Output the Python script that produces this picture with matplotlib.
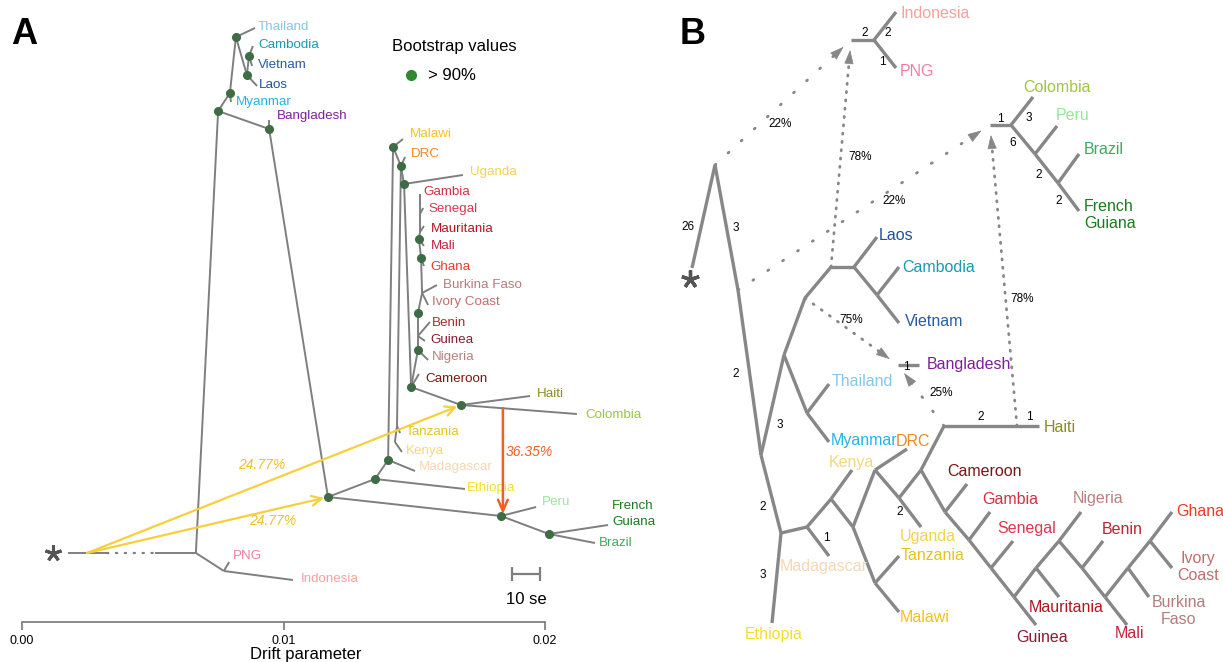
import numpy as np
import matplotlib.pyplot as plt

plt.rcParams['font.family'] = ['Liberation Sans', 'DejaVu Sans']

#################################################################################################################
# Datos panel A (arbol TreeMix): x = drift parameter, y = fila (0 arriba)
nodos_a = {
    'raiz': (0.00176, 553), 'p1': (0.00325, 553), 'p2': (0.00509, 553), 'base': (0.00665, 553),
    'oce': (0.00772, 571), 'PNG': (0.00792, 562), 'Indonesia': (0.01036, 580),
    'sea': (0.00750, 111), 'mya': (0.00795, 93), 'Myanmar': (0.00799, 102),
    'tha': (0.00818, 37), 'Thailand': (0.00891, 28), 'lao': (0.00860, 75), 'Laos': (0.00899, 86),
    'cv': (0.00868, 56), 'Cambodia': (0.00883, 46), 'Vietnam': (0.00880, 66),
    'bgd': (0.00945, 129), 'Bangladesh': (0.00945, 120),
    'afr': (0.01170, 497), 'eth': (0.01350, 479), 'Ethiopia': (0.01694, 489),
    'mdg': (0.01400, 460), 'Madagascar': (0.01503, 471),
    'mwi': (0.01419, 147), 'Malawi': (0.01457, 139), 'drc': (0.01449, 166), 'DRC': (0.01465, 157),
    'tza': (0.01434, 426), 'Tanzania': (0.01446, 433), 'ken': (0.01426, 442), 'Kenya': (0.01453, 452),
    'uga': (0.01461, 184), 'Uganda': (0.01686, 175),
    'cmr': (0.01488, 387), 'Cameroon': (0.01518, 374),
    'wa1': (0.01514, 350), 'Nigeria': (0.01553, 360), 'wa_gb': (0.01514, 336), 'Guinea': (0.01541, 341),
    'Benin': (0.01560, 322), 'wa2': (0.01514, 313), 'wa_bi': (0.01530, 293),
    'Burkina Faso': (0.01587, 285), 'Ivory Coast': (0.01553, 305),
    'wa3': (0.01526, 258), 'Ghana': (0.01537, 266), 'wa4': (0.01518, 239), 'Mali': (0.01537, 246),
    'wa5': (0.01522, 232), 'Mauritania': (0.01537, 226), 'wa6': (0.01522, 214), 'Senegal': (0.01534, 208),
    'Gambia': (0.01522, 194),
    'hai': (0.01679, 405), 'Haiti': (0.01943, 396), 'Colombia': (0.02122, 414),
    'per': (0.01832, 516), 'Peru': (0.01966, 507),
    'bra': (0.02015, 534), 'French Guiana': (0.02241, 525), 'Brazil': (0.02191, 543),
}
ramas_a = [('raiz', 'p1'), ('p2', 'base'),
           ('base', 'sea'), ('sea', 'mya'), ('mya', 'Myanmar'), ('mya', 'tha'), ('tha', 'Thailand'),
           ('tha', 'lao'), ('lao', 'Laos'), ('lao', 'cv'), ('cv', 'Cambodia'), ('cv', 'Vietnam'),
           ('sea', 'bgd'), ('bgd', 'Bangladesh'), ('bgd', 'afr'),
           ('base', 'oce'), ('oce', 'PNG'), ('oce', 'Indonesia'),
           ('afr', 'eth'), ('eth', 'Ethiopia'), ('eth', 'mdg'), ('mdg', 'Madagascar'), ('mdg', 'mwi'),
           ('mwi', 'Malawi'), ('mwi', 'drc'), ('drc', 'DRC'), ('drc', 'uga'), ('uga', 'Uganda'),
           ('drc', 'tza'), ('tza', 'Tanzania'), ('tza', 'ken'), ('ken', 'Kenya'),
           ('uga', 'cmr'), ('cmr', 'Cameroon'), ('cmr', 'wa1'), ('wa1', 'Nigeria'), ('wa1', 'wa_gb'),
           ('wa_gb', 'Guinea'), ('wa_gb', 'Benin'), ('wa_gb', 'wa2'), ('wa2', 'wa_bi'),
           ('wa_bi', 'Burkina Faso'), ('wa_bi', 'Ivory Coast'), ('wa_bi', 'wa3'), ('wa3', 'Ghana'),
           ('wa3', 'wa4'), ('wa4', 'Mali'), ('wa4', 'wa5'), ('wa5', 'Mauritania'), ('wa5', 'wa6'),
           ('wa6', 'Senegal'), ('wa6', 'Gambia'),
           ('cmr', 'hai'), ('hai', 'Haiti'), ('hai', 'Colombia'),
           ('afr', 'per'), ('per', 'Peru'), ('per', 'bra'), ('bra', 'French Guiana'), ('bra', 'Brazil')]
bootstrap_a = ['tha', 'cv', 'lao', 'mya', 'sea', 'bgd', 'mwi', 'drc', 'uga', 'wa4', 'wa3', 'wa2', 'wa1',
               'cmr', 'hai', 'mdg', 'eth', 'afr', 'per', 'bra']
# migraciones: origen en la raiz (x), destino, peso
mig_origen_x = 0.00249
migraciones_a = [('hai', '24.77%'), ('afr', '24.77%')]
mig_roja = ('hai', 'Colombia', 'per', '36.35%')

#################################################################################################################
# Datos panel B (grafo qpGraph), coordenadas de diseno
nodos_b = {
    'R': (715, 165), 'OG': (692, 268), 'ast': (690, 279), 'N1': (738, 290), 'N2': (761, 455),
    'N3': (784, 355), 'N5': (805, 298),
    'A1': (831, 267), 'A2': (854, 267), 'Laos': (877, 237), 'CV': (877, 295), 'Cambodia': (899, 267),
    'Vietnam': (899, 323), 'TM': (807, 413), 'Thailand': (829, 384), 'Myanmar': (829, 442),
    'N4': (781, 533), 'Ethiopia': (772, 623), 'M': (807, 527), 'Madagascar': (829, 556),
    'E2': (831, 499), 'Kenya': (852, 470), 'K': (853, 527), 'T': (875, 583), 'Tanzania': (899, 556),
    'Malawi': (899, 612), 'D': (875, 470), 'DRC': (907, 449), 'U': (899, 498), 'Uganda': (921, 527),
    'W': (921, 470), 'H0': (944, 426), 'HX': (1017, 426), 'Haiti': (1039, 426),
    'B1': (945, 512), 'Cameroon': (967, 484), 'B2': (969, 540), 'Gambia': (990, 512),
    'B3': (991, 568), 'Senegal': (1013, 541), 'B4': (1014, 597), 'Guinea': (1036, 625),
    'C1': (1036, 568), 'Mauritania': (1059, 597), 'C2': (1059, 541), 'Nigeria': (1081, 512),
    'C3': (1082, 568), 'Benin': (1103, 541), 'C4': (1105, 597), 'Mali': (1127, 625),
    'C5': (1128, 568), 'Burkina Faso': (1149, 597), 'C6': (1150, 541), 'Ivory Coast': (1172, 568),
    'Ghana': (1172, 512),
    'I1': (851, 40), 'I2': (874, 40), 'Indonesia': (896, 12), 'PNG': (896, 68),
    'Q1': (990, 125), 'Q2': (1011, 125), 'Colombia': (1033, 97), 'P1': (1035, 154), 'Peru': (1057, 126),
    'P2': (1058, 183), 'Brazil': (1079, 154), 'French Guiana': (1079, 211),
    'G1': (898, 365), 'Bangladesh': (919, 365),
}
ramas_b = [('R', 'OG'), ('R', 'N1'), ('N1', 'N2'), ('N2', 'N3'), ('N3', 'TM'), ('TM', 'Thailand'),
           ('TM', 'Myanmar'), ('N3', 'N5'), ('N5', 'A1'), ('A1', 'A2'), ('A2', 'Laos'), ('A2', 'CV'),
           ('CV', 'Cambodia'), ('CV', 'Vietnam'), ('N2', 'N4'), ('N4', 'Ethiopia'), ('N4', 'M'),
           ('M', 'Madagascar'), ('M', 'E2'), ('E2', 'Kenya'), ('E2', 'K'), ('K', 'T'), ('T', 'Tanzania'),
           ('T', 'Malawi'), ('K', 'D'), ('D', 'DRC'), ('D', 'U'), ('U', 'Uganda'), ('U', 'W'), ('W', 'H0'),
           ('H0', 'Haiti'), ('W', 'B1'), ('B1', 'Cameroon'), ('B1', 'B2'), ('B2', 'Gambia'), ('B2', 'B3'),
           ('B3', 'Senegal'), ('B3', 'B4'), ('B4', 'Guinea'), ('B4', 'C1'), ('C1', 'Mauritania'),
           ('C1', 'C2'), ('C2', 'Nigeria'), ('C2', 'C3'), ('C3', 'Benin'), ('C3', 'C4'), ('C4', 'Mali'),
           ('C4', 'C5'), ('C5', 'Burkina Faso'), ('C5', 'C6'), ('C6', 'Ivory Coast'), ('C6', 'Ghana'),
           ('I1', 'I2'), ('I2', 'Indonesia'), ('I2', 'PNG'), ('Q1', 'Q2'), ('Q2', 'Colombia'),
           ('Q2', 'P1'), ('P1', 'Peru'), ('P1', 'P2'), ('P2', 'Brazil'), ('P2', 'French Guiana'),
           ('G1', 'Bangladesh')]
# (origen, destino, porcentaje, separacion de puntos)
mezclas_b = [('R', 'I1', '22%', 6.0), ('A1', 'I1', '78%', 2.6), ('N1', 'Q1', '22%', 6.0),
             ('HX', 'Q1', '78%', 2.6), ('N5', 'G1', '75%', 3.2), ('H0', 'G1', '25%', 6.0)]
pos_pct_b = [(780, 124), (860, 157), (894, 201), (1022, 299), (851, 320), (941, 393)]
largos_b = [('26', 688, 227), ('3', 736, 228), ('2', 736, 374), ('3', 780, 425), ('2', 763, 507),
            ('3', 763, 575), ('1', 826, 538), ('2', 900, 512), ('2', 981, 417), ('1', 1029, 417),
            ('1', 906, 367), ('2', 865, 33), ('2', 888, 33), ('1', 882, 62), ('1', 1000, 119),
            ('3', 1029, 118), ('6', 1013, 143), ('2', 1039, 175), ('2', 1059, 201)]

colores = {
    'Thailand': '#86c6ea', 'Cambodia': '#1a9aae', 'Vietnam': '#2a5ba6', 'Laos': '#2250a0',
    'Myanmar': '#25b3e6', 'Bangladesh': '#7d1f9c', 'Malawi': '#f4c21a', 'DRC': '#ee8a20',
    'Uganda': '#f3d34e', 'Gambia': '#d3303f', 'Senegal': '#df3550', 'Mauritania': '#b3141e',
    'Mali': '#c8203f', 'Ghana': '#ee3a26', 'Burkina Faso': '#b47c7c', 'Ivory Coast': '#c46c6c',
    'Benin': '#b3272f', 'Guinea': '#8a1b30', 'Nigeria': '#b98080', 'Cameroon': '#7a1616',
    'Haiti': '#8b8b1f', 'Colombia': '#9cc63e', 'Tanzania': '#e7c41c', 'Kenya': '#f4d77c',
    'Madagascar': '#f6d6b4', 'Ethiopia': '#f6de2c', 'Peru': '#97e69a', 'French Guiana': '#1b7a1f',
    'Brazil': '#3eaa5e', 'PNG': '#f07ea0', 'Indonesia': '#f4a29c',
}

#################################################################################################################
gris = '#7f7f7f'
verde = '#3e6c45'
amarillo = '#f6cf3a'
naranjo = '#f15f24'

fig = plt.figure(figsize=(12.23, 6.62), dpi=100)

# ----------------------------------- Panel A
ax = fig.add_axes([0, 0, 611 / 1223, 1])
ax.set_xlim(-22 / 26150, 589 / 26150)
ax.set_ylim(662, 0)

for a, b in ramas_a:
    (x1, y1), (x2, y2) = nodos_a[a], nodos_a[b]
    ax.plot([x1, x2], [y1, y2], color=gris, lw=1.4, solid_capstyle='butt', zorder=2)
(x1, y1), (x2, y2) = nodos_a['p1'], nodos_a['p2']
ax.plot([x1, x2], [y1, y2], color=gris, lw=1.6, linestyle=(0, (0.6, 3.4)), dash_capstyle='round', zorder=2)
ax.plot([nodos_a['raiz'][0] - 0.00057], [553], marker=(5, 2, 0), ms=12, mew=2.2, color='#555555')

xs = [nodos_a[n][0] for n in bootstrap_a]
ys = [nodos_a[n][1] for n in bootstrap_a]
ax.plot(xs, ys, 'o', color=verde, ms=5.5, zorder=4)

# etiquetas de las puntas (desplazamiento en pixeles: dx, dy hacia arriba)
despl_a = {'Thailand': (3, 1), 'Cambodia': (5, 1), 'Vietnam': (6, 1), 'Laos': (2, 1), 'Myanmar': (5, 0),
           'Bangladesh': (8, 4), 'Malawi': (7, 5), 'DRC': (6, 3), 'Uganda': (7, 3), 'Gambia': (3, 2),
           'Senegal': (5, -1), 'Mauritania': (7, -3), 'Mali': (7, 0), 'Ghana': (6, -1),
           'Burkina Faso': (6, 0), 'Ivory Coast': (4, 3), 'Benin': (2, -1), 'Guinea': (5, 1),
           'Nigeria': (4, 3), 'Cameroon': (6, -5), 'Haiti': (7, 2), 'Colombia': (8, -1),
           'Tanzania': (6, 1), 'Kenya': (4, 1), 'Madagascar': (4, 4), 'Ethiopia': (2, 1),
           'Peru': (6, 5), 'French Guiana': (4, 11), 'Brazil': (4, 0), 'PNG': (4, 6), 'Indonesia': (8, 1)}
for nombre, (dx, dy) in despl_a.items():
    texto = 'French\nGuiana' if nombre == 'French Guiana' else nombre
    ax.annotate(texto, nodos_a[nombre], xytext=(dx, dy), textcoords='offset pixels',
                ha='left', va='center', fontsize=9.6, color=colores[nombre], linespacing=1.35)

# flechas de migracion amarillas
for destino, peso in migraciones_a:
    ax.annotate('', xy=nodos_a[destino], xytext=(mig_origen_x, nodos_a['raiz'][1]),
                arrowprops=dict(arrowstyle='->,head_length=0.7,head_width=0.35', color=amarillo,
                                lw=1.6, shrinkA=0, shrinkB=3), zorder=3)
ax.text(0.00918, 465, migraciones_a[0][1], fontsize=10, style='italic', color='#f0c030', ha='center', va='center')
ax.text(0.00960, 521, migraciones_a[1][1], fontsize=10, style='italic', color='#f0c030', ha='center', va='center')

# flecha naranja: desde la rama hai-Colombia hacia el nodo de Peru
h, c, p, peso = mig_roja
xo = nodos_a[p][0] + 0.00007
yo = np.interp(xo, [nodos_a[h][0], nodos_a[c][0]], [nodos_a[h][1], nodos_a[c][1]])
ax.annotate('', xy=(xo, nodos_a[p][1] - 2), xytext=(xo, yo),
            arrowprops=dict(arrowstyle='->,head_length=0.8,head_width=0.35', color=naranjo,
                            lw=1.8, shrinkA=0, shrinkB=0), zorder=3)
ax.text(0.01939, 452, peso, fontsize=10, style='italic', color=naranjo, ha='center', va='center')

# barra de escala 10 se
ax.errorbar([0.01927], [574], xerr=[0.00053], color=gris, lw=1.6, capsize=5, capthick=1.6)
ax.text(0.01927, 599, '10 se', fontsize=12, ha='center', va='center')

# leyenda bootstrap
ax.text(0.01415, 47, 'Bootstrap values', fontsize=12, ha='left', va='center')
ax.plot([0.01488], [75], 'o', color='#2f8a2f', ms=7)
ax.text(0.01553, 75, '> 90%', fontsize=12, ha='left', va='center')

# eje de drift
for lado in ['top', 'left', 'right']:
    ax.spines[lado].set_visible(False)
ax.spines['bottom'].set_position(('data', 622))
ax.spines['bottom'].set_bounds(0, 0.02)
ax.spines['bottom'].set_color('#777777')
ax.spines['bottom'].set_linewidth(1.2)
ax.set_xticks([0, 0.01, 0.02])
ax.set_xticklabels(['0.00', '0.01', '0.02'])
ax.tick_params(axis='x', length=6, width=1.2, color='#777777', labelsize=9, pad=3)
ax.set_yticks([])
ax.set_xlabel('Drift parameter', fontsize=12, labelpad=0)
ax.patch.set_alpha(0)

# ----------------------------------- Panel B
bx = fig.add_axes([611 / 1223, 0, 612 / 1223, 1])
bx.set_xlim(611, 1223)
bx.set_ylim(662, 0)
bx.axis('off')

gris_b = '#878787'
for a, b in ramas_b:
    (x1, y1), (x2, y2) = nodos_b[a], nodos_b[b]
    bx.plot([x1, x2], [y1, y2], color=gris_b, lw=2.4, solid_capstyle='butt', zorder=2)
bx.plot(*nodos_b['ast'], marker=(5, 2, 0), ms=13, mew=2.4, color='#555555')

for (orig, dest, pct, sep), (tx, ty) in zip(mezclas_b, pos_pct_b):
    x1, y1 = nodos_b[orig]
    x2, y2 = nodos_b[dest]
    d = np.hypot(x2 - x1, y2 - y1)
    ux, uy = (x2 - x1) / d, (y2 - y1) / d
    xe, ye = x2 - ux * 10, y2 - uy * 10
    bx.plot([x1, xe - ux * 8], [y1, ye - uy * 8], color=gris_b, lw=2.0,
            linestyle=(0, (0.4, sep)), dash_capstyle='round', zorder=1)
    bx.annotate('', xy=(xe, ye), xytext=(xe - ux * 9, ye - uy * 9),
                arrowprops=dict(arrowstyle='-|>,head_length=0.9,head_width=0.3', color=gris_b,
                                lw=0.5, shrinkA=0, shrinkB=0))
    bx.text(tx, ty, pct, fontsize=8.5, ha='center', va='center')

for t, x, y in largos_b:
    bx.text(x, y, t, fontsize=8.5, ha='center', va='center')

pos_txt_b = {'Indonesia': (900, 13, 'left'), 'PNG': (900, 71, 'left'), 'Colombia': (1023, 87, 'left'),
             'Peru': (1056, 115, 'left'), 'Brazil': (1084, 150, 'left'), 'French Guiana': (1084, 215, 'left'),
             'Laos': (879, 235, 'left'), 'Cambodia': (902, 268, 'left'), 'Vietnam': (905, 322, 'left'),
             'Bangladesh': (927, 365, 'left'), 'Thailand': (832, 382, 'left'), 'Myanmar': (831, 440, 'left'),
             'DRC': (896, 441, 'left'), 'Kenya': (851, 462, 'center'), 'Madagascar': (824, 567, 'center'),
             'Ethiopia': (774, 634, 'center'), 'Uganda': (928, 537, 'center'), 'Tanzania': (901, 556, 'left'),
             'Malawi': (900, 618, 'left'), 'Cameroon': (984, 472, 'center'), 'Gambia': (1010, 500, 'center'),
             'Senegal': (1027, 529, 'center'), 'Nigeria': (1098, 498, 'center'), 'Benin': (1122, 529, 'center'),
             'Ghana': (1176, 511, 'left'), 'Ivory Coast': (1198, 567, 'center'),
             'Burkina Faso': (1179, 611, 'center'), 'Mali': (1130, 634, 'center'),
             'Mauritania': (1066, 607, 'center'), 'Guinea': (1042, 638, 'center'), 'Haiti': (1044, 428, 'left')}
for nombre, (x, y, ha) in pos_txt_b.items():
    texto = nombre.replace(' ', '\n') if nombre in ('French Guiana', 'Ivory Coast', 'Burkina Faso') else nombre
    bx.text(x, y, texto, fontsize=11.5, ha=ha, va='center', color=colores[nombre], linespacing=1.15)

fig.text(24 / 1223, 1 - 34 / 662, 'A', fontsize=26, fontweight='bold', ha='center', va='center')
fig.text(693 / 1223, 1 - 34 / 662, 'B', fontsize=26, fontweight='bold', ha='center', va='center')

plt.savefig('out.png', dpi=100)
